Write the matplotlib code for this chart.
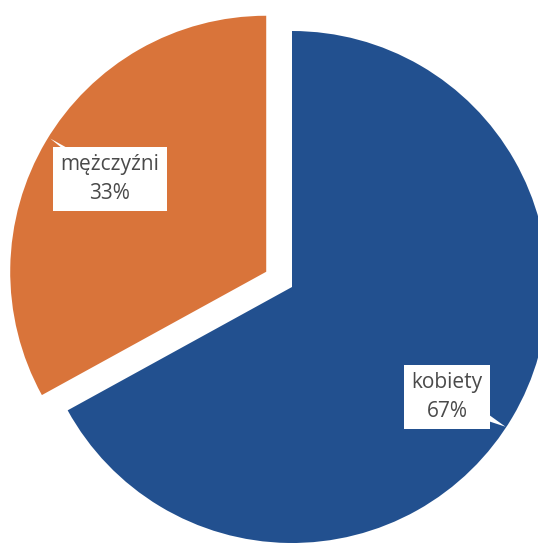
import matplotlib
matplotlib.use("Agg")
import matplotlib.pyplot as plt

categories = ["kobiety", "mężczyźni"]
values = [67, 33]
colors = ["#22508f", "#d9743a"]
explode = [0, 0.117]

fig = plt.figure(figsize=(5.38, 5.51), dpi=100)
ax = fig.add_axes([0, 0, 1, 1])
ax.pie(values, colors=colors, explode=explode, startangle=90,
       counterclock=False, radius=1.0, wedgeprops=dict(linewidth=0))
ax.set_aspect("auto")
ax.set_xlim(-292 / 256, (538 - 292) / 256)
ax.set_ylim(-(551 - 287) / 256, 287 / 256)
ax.axis("off")

def px(x, y):
    return ((x - 292) / 256, (287 - y) / 256)

labels = [f"{c}\n{v}%" for c, v in zip(categories, values)]
boxes = [px(447, 397), px(110, 179)]
tips = [px(508, 428), px(48, 137)]
widths = [1.4, 0.9]
for lab, bc, tip, tw in zip(labels, boxes, tips, widths):
    ax.annotate("", xy=tip, xytext=bc,
                arrowprops=dict(arrowstyle=f"wedge,tail_width={tw},shrink_factor=0.5",
                                fc="white", ec="none", lw=0))
    ax.text(bc[0], bc[1], lab, ha="center", va="center", fontsize=15,
            family="Open Sans", color="#4a4a4a", linespacing=1.5,
            bbox=dict(boxstyle="square,pad=0.35", fc="white", ec="none"))

fig.savefig("out.png", dpi=100, facecolor="white")
